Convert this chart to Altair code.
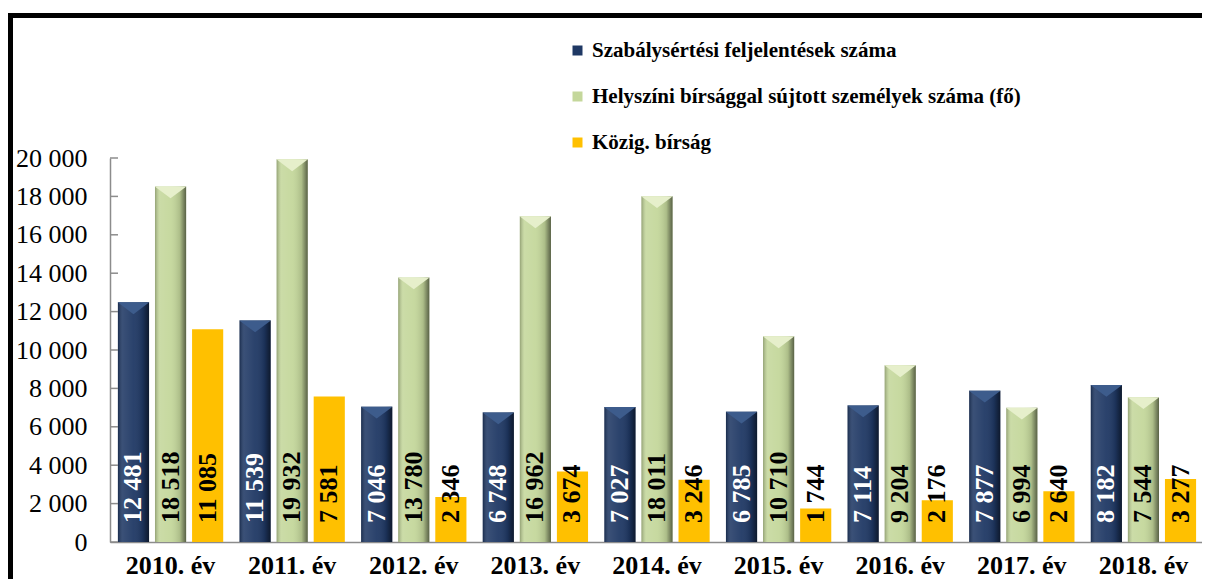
import altair as alt
import pandas as pd

years = ["2010. év", "2011. év", "2012. év", "2013. év", "2014. év",
         "2015. év", "2016. év", "2017. év", "2018. év"]
series_names = ["Szabálysértési feljelentések száma",
                "Helyszíni bírsággal sújtott személyek száma (fő)",
                "Közig. bírság"]
feljelentes = [12481, 11539, 7046, 6748, 7027, 6785, 7114, 7877, 8182]
helyszini = [18518, 19932, 13780, 16962, 18011, 10710, 9204, 6994, 7544]
kozig = [11085, 7581, 2346, 3674, 3246, 1744, 2176, 2640, 3277]
colors = ["#1F3864", "#C4D79B", "#FFC000"]
y_ticks = list(range(0, 20001, 2000))

rows = []
for i, yr in enumerate(years):
    for s, vals in zip(series_names, [feljelentes, helyszini, kozig]):
        rows.append({"ev": yr, "sorozat": s, "ertek": vals[i]})
df = pd.DataFrame(rows)
ticks_df = pd.DataFrame({"t": y_ticks})

FONT = "Liberation Serif"
GRAY = "#8c8c8c"

x_enc = alt.X("ev:N", sort=years,
              scale=alt.Scale(paddingInner=0.134, paddingOuter=0.065),
              axis=alt.Axis(title=None, labelAngle=0, labelFont=FONT, labelFontSize=26,
                            labelFontWeight="bold", labelColor="black", ticks=False,
                            labelBaseline="alphabetic", labelPadding=31,
                            domainColor=GRAY, domainWidth=1.5))
xo_enc = alt.XOffset("sorozat:N", sort=series_names,
                     scale=alt.Scale(domain=series_names, paddingInner=0.16))
yscale = alt.Scale(domain=[0, 20000], nice=False)
y_axis = alt.Axis(title=None, values=y_ticks, grid=False, domain=True,
                  domainColor=GRAY, domainWidth=1.5, ticks=False,
                  labelPadding=23, labelFont=FONT, labelFontSize=26,
                  labelColor="black",
                  labelExpr="replace(format(datum.value, ',d'), ',', ' ')")

bars = alt.Chart(df).mark_bar().encode(
    x=x_enc, xOffset=xo_enc,
    y=alt.Y("ertek:Q", scale=yscale, axis=y_axis),
    color=alt.Color("sorozat:N", sort=series_names,
                    scale=alt.Scale(domain=series_names, range=colors),
                    legend=alt.Legend(title=None, orient="none", legendX=457, legendY=-118,
                                      symbolType="square", symbolSize=100,
                                      symbolStrokeWidth=0, labelFont=FONT,
                                      labelFontSize=21, labelFontWeight="bold",
                                      labelColor="black", rowPadding=24, labelOffset=4,
                                      padding=0, labelLimit=700)),
)

shade = alt.Chart(df).transform_filter(
    alt.datum.sorozat != series_names[2]
).mark_bar(
    fill=alt.Gradient(gradient="linear", x1=0, x2=1, y1=0, y2=0,
                      stops=[alt.GradientStop(color="rgba(0,0,0,0.25)", offset=0),
                             alt.GradientStop(color="rgba(255,255,255,0.12)", offset=0.15),
                             alt.GradientStop(color="rgba(255,255,255,0.05)", offset=0.5),
                             alt.GradientStop(color="rgba(0,0,0,0.12)", offset=0.8),
                             alt.GradientStop(color="rgba(0,0,0,0.55)", offset=1)])
).encode(x=x_enc, xOffset=xo_enc, y=alt.Y("ertek:Q", scale=yscale, axis=y_axis))

bevel = alt.Chart(df).transform_filter(
    alt.datum.sorozat != series_names[2]
).mark_point(shape="M-1,0L1,0L0,0.75Z", size=1000, filled=True, opacity=1,
             strokeWidth=0).encode(
    x=x_enc, xOffset=xo_enc, y=alt.Y("ertek:Q", scale=yscale, axis=y_axis),
    color=alt.condition(alt.datum.sorozat == series_names[0],
                        alt.value("#3D5C8C"), alt.value("#E6EFCB")),
)

labels = alt.Chart(df).transform_calculate(
    zero="0",
    lbl="replace(format(datum.ertek, ',d'), ',', ' ')"
).mark_text(angle=270, align="left", baseline="middle", dx=19, font=FONT,
            fontSize=26, fontWeight="bold").encode(
    x=x_enc, xOffset=xo_enc, y=alt.Y("zero:Q", scale=yscale, axis=y_axis),
    text="lbl:N",
    color=alt.condition(alt.datum.sorozat == series_names[0],
                        alt.value("white"), alt.value("black")),
)

yticks = alt.Chart(ticks_df).mark_rule(color=GRAY, strokeWidth=1.5).encode(
    x=alt.value(0), x2=alt.value(8), y=alt.Y("t:Q", scale=yscale, axis=y_axis))

frame = alt.Chart(alt.Data(values=[{"k": 1}])).mark_rect(
    fillOpacity=0, stroke="black", strokeWidth=5).encode(
    x=alt.value(-99.5), x2=alt.value(1300), y=alt.value(-142.5), y2=alt.value(900))

chart = alt.layer(frame, bars, shade, bevel, labels, yticks).properties(
    width=1094, height=384,
    padding={"left": 102, "top": 150, "right": -2, "bottom": 37},
    autosize=alt.AutoSizeParams(type="none"),
).configure(
    background="white",
    view=alt.ViewConfig(stroke="transparent", strokeWidth=0),
)

chart.save("out.html", embed_options={"renderer": "svg", "actions": False})
